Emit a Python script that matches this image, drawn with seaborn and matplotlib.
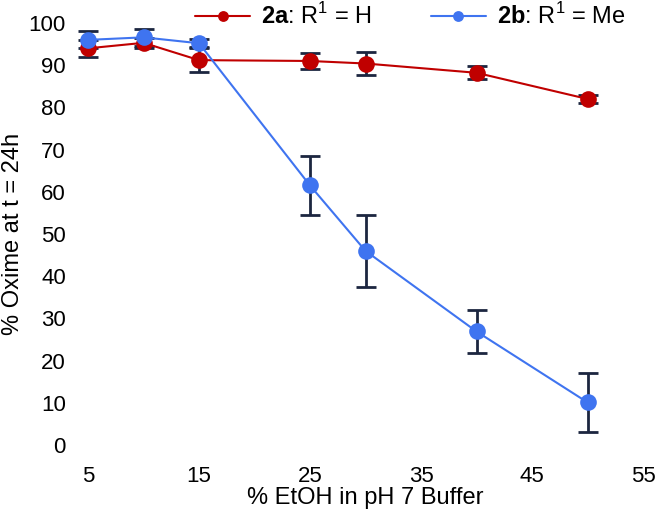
import numpy as np
import pandas as pd
import matplotlib
matplotlib.use("Agg")
import matplotlib.pyplot as plt
import seaborn as sns

# data
etoh = [5, 10, 15, 25, 30, 40, 50]
oxime_2a = [94.0, 95.3, 91.2, 91.0, 90.4, 88.2, 82.0]
err_2a = [2.0, 1.2, 2.8, 2.0, 2.8, 1.5, 1.0]
oxime_2b = [96.0, 96.6, 95.2, 61.5, 46.0, 26.9, 10.1]
err_2b = [2.0, 2.0, 1.0, 7.0, 8.6, 5.0, 7.0]

x_ticks = [5, 15, 25, 35, 45, 55]
y_ticks = list(range(0, 101, 10))

RED = "#c00000"
BLUE = "#3f74f0"
ERR = "#1c2640"

sns.set_style("white")
plt.rcParams["font.family"] = ["Liberation Sans", "DejaVu Sans"]
plt.rcParams["mathtext.fontset"] = "custom"
plt.rcParams["mathtext.rm"] = "Liberation Sans"
plt.rcParams["mathtext.bf"] = "Liberation Sans:bold"
plt.rcParams["text.color"] = "black"
plt.rcParams["axes.labelcolor"] = "black"
plt.rcParams["xtick.color"] = "black"
plt.rcParams["ytick.color"] = "black"

df = pd.DataFrame({
    "etoh": etoh * 2,
    "oxime": oxime_2a + oxime_2b,
    "series": [r"$\mathbf{2a}$: R$^1$ = H"] * len(etoh) + [r"$\mathbf{2b}$: R$^1$ = Me"] * len(etoh),
})

fig = plt.figure(figsize=(6.58, 5.14), dpi=100)
ax = fig.add_axes([88 / 658, 69 / 514, 555 / 658, 422 / 514])

for vals, errs in [(oxime_2a, err_2a), (oxime_2b, err_2b)]:
    ax.errorbar(etoh, vals, yerr=errs, fmt="none", ecolor=ERR, elinewidth=2,
                capsize=7, capthick=2, zorder=2, clip_on=False)

sns.lineplot(data=df, x="etoh", y="oxime", hue="series", palette=[RED, BLUE],
             marker="o", markersize=12, markeredgewidth=0, linewidth=1.5,
             ax=ax, zorder=3, clip_on=False)

ax.set_xlim(5, 55)
ax.set_ylim(0, 100)
ax.set_xticks(x_ticks)
ax.set_yticks(y_ticks)
ax.tick_params(axis="both", length=0, labelsize=16)
ax.tick_params(axis="y", pad=16)
ax.tick_params(axis="x", pad=15)
ax.set_xlabel("% EtOH in pH 7 Buffer", fontsize=17, labelpad=0)
ax.set_ylabel("% Oxime at t = 24h", fontsize=17, labelpad=3)
sns.despine(ax=ax, left=True, bottom=True, top=True, right=True)

handles, labels = ax.get_legend_handles_labels()
ax.legend_.remove()
fig.legend(handles, labels, loc="center", bbox_to_anchor=(410 / 658, 1 - 16 / 514),
           ncol=2, frameon=False, fontsize=17, handlelength=2.35, markerscale=0.65,
           columnspacing=2.5, handletextpad=0.45)

plt.savefig("out.png", dpi=100)
plt.close()
